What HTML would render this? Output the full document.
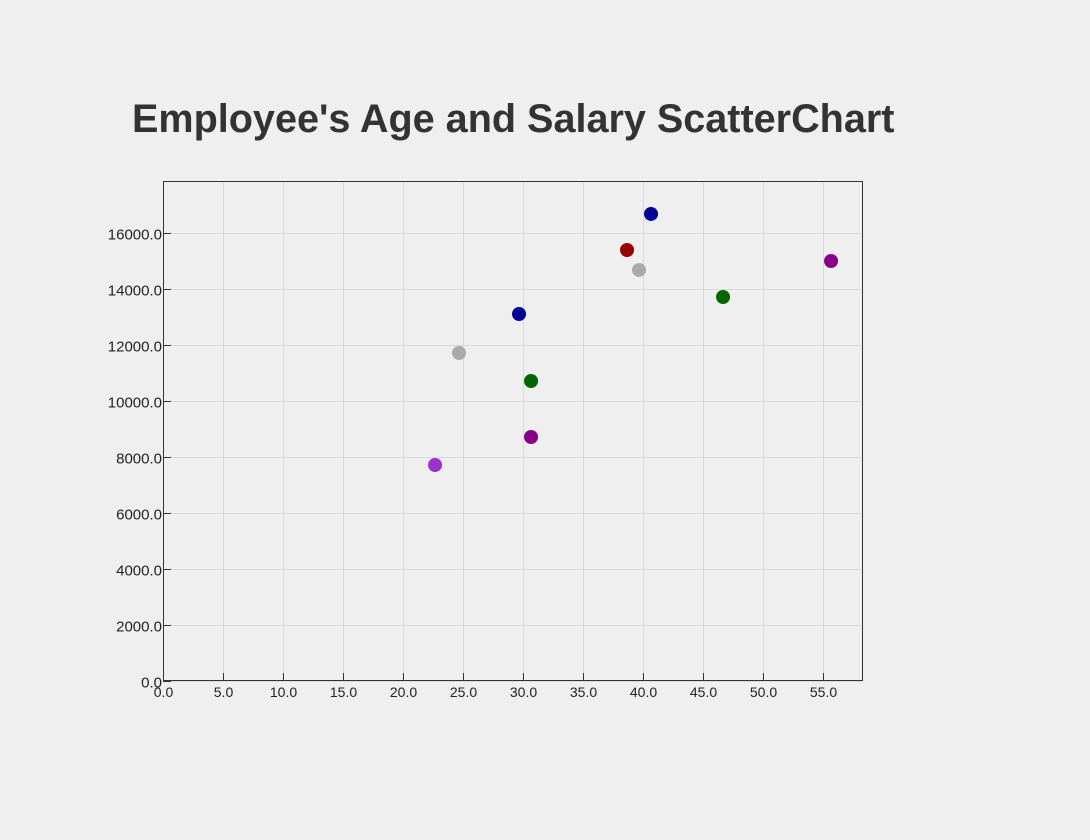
<!DOCTYPE html>
<html><head><meta charset="utf-8"><style>
body{margin:0;background:#efefef;}
svg{display:block;font-family:"Liberation Sans",sans-serif;}
</style></head><body>
<svg id="chart" width="1090" height="840">
<rect width="1090" height="840" fill="#efefef"/>
<text x="132" y="132" font-size="39.6" font-weight="bold" fill="#333">Employee's Age and Salary ScatterChart</text>
<g id="grid"></g>
<rect x="163.5" y="181.5" width="699" height="499" fill="none" stroke="#333" stroke-width="1"/>
<g id="axes"></g>
<g id="points"></g>
</svg>
<script>
const ages=[22.67,24.67,29.67,30.67,30.67,38.67,39.67,40.67,46.67,55.67];
const salaries=[7714,11714,13107,10714,8714,15393,14679,16679,13714,15000];
const colors=["#9933cc","#aaaaaa","#000099","#006600","#880088","#990000","#aaaaaa","#000099","#006600","#880088"];
const xTicks=[0,5,10,15,20,25,30,35,40,45,50,55];
const yTicks=[0,2000,4000,6000,8000,10000,12000,14000,16000];
const X0=163,X1=863,Y0=681,Y1=181,XMAX=58.333,YMAX=17857;
const sx=v=>X0+v/XMAX*(X1-X0);
const sy=v=>Y0-v/YMAX*(Y0-Y1);
const NS="http://www.w3.org/2000/svg";
function mk(t,a,p){const e=document.createElementNS(NS,t);for(const k in a)e.setAttribute(k,a[k]);p.appendChild(e);return e;}
const grid=document.getElementById('grid'),axes=document.getElementById('axes'),pts=document.getElementById('points');
xTicks.forEach(v=>{const x=Math.round(sx(v))+0.5;
 const g=mk('line',{x1:x,x2:x,y1:Y1,y2:Y0,stroke:'#dadada'},grid);
 
 
 const t=mk('line',{x1:x,x2:x,y1:Y0-8,y2:Y0,stroke:'#333'},axes);
 
 
 const l=mk('text',{x:x,y:Y0+16,'font-size':14,'text-anchor':'middle',fill:'#222'},axes);
 l.textContent=v.toFixed(1);
 
 
});
yTicks.forEach(v=>{const y=Math.round(sy(v))+0.5;
 const g=mk('line',{x1:X0,x2:X1,y1:y,y2:y,stroke:'#dadada'},grid);
 
 
 const t=mk('line',{x1:X0,x2:X0+8,y1:y,y2:y,stroke:'#333'},axes);
 
 
 const l=mk('text',{x:X0-1,y:y+6,'font-size':15,'text-anchor':'end',fill:'#222'},axes);
 l.textContent=v.toFixed(1);
 
 
});
ages.forEach((a,i)=>{
 const c=mk('circle',{cx:sx(a),cy:sy(salaries[i]),r:7,fill:colors[i]},pts);
 
 
});
</script>
</body></html>
